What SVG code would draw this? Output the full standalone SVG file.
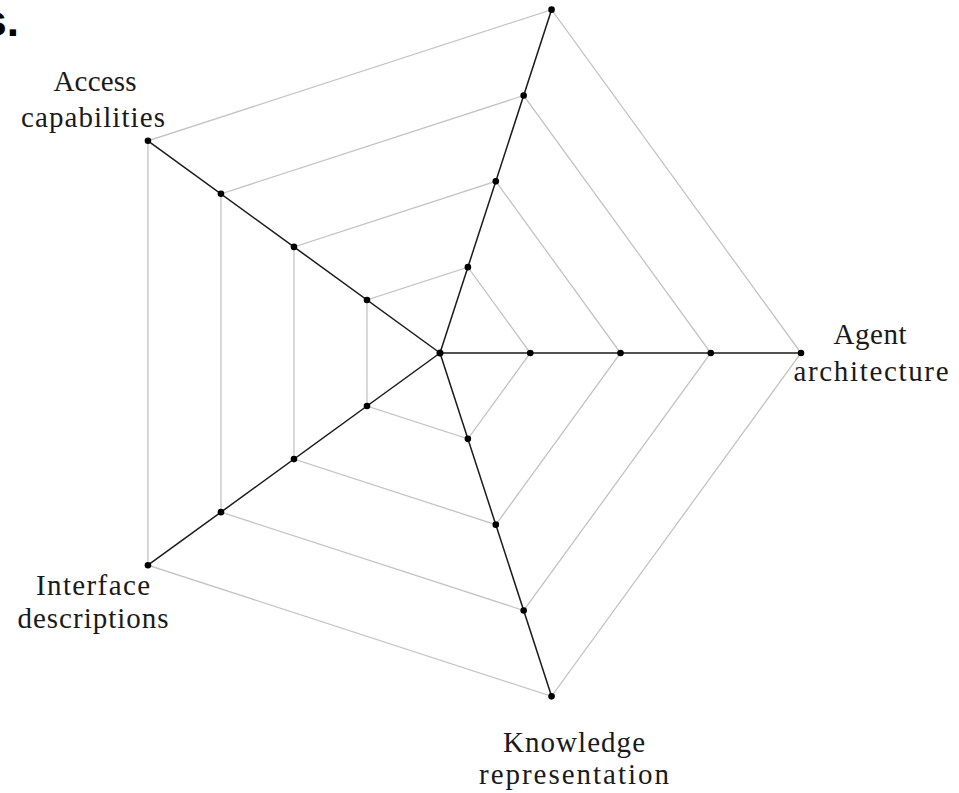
<svg xmlns="http://www.w3.org/2000/svg" width="959" height="793" viewBox="0 0 959 793">
  <style>
    .grid { fill: none; stroke: #c4c4c4; stroke-width: 1.3; }
    .spoke { stroke: #1a1a1a; stroke-width: 1.5; }
    .dot { fill: #000; }
    .lbl { font-family: "Liberation Serif", "DejaVu Serif", serif; font-size: 29px; fill: #1a1a1a; text-anchor: middle; }
    .tag { font-family: "Liberation Sans", Arial, sans-serif; font-weight: bold; font-size: 44px; fill: #000; }
  </style>
  <rect width="959" height="793" fill="#fff"/>

  <!-- panel letter -->
  <text class="tag" x="19" y="36" text-anchor="end">s.</text>

  <!-- concentric pentagons -->
  <g id="grid">
    <polygon class="grid" points="530.25,353 467.89,267.17 366.99,299.95 366.99,406.05 467.89,438.83"/>
    <polygon class="grid" points="620.5,353 495.78,181.33 293.97,246.90 293.97,459.10 495.78,524.67"/>
    <polygon class="grid" points="710.75,353 523.67,95.50 220.96,193.86 220.96,512.14 523.67,610.50"/>
    <polygon class="grid" points="801,353 551.56,9.67 147.95,140.81 147.95,565.19 551.56,696.33"/>
  </g>

  <!-- axes -->
  <g id="connectors">
    <line class="spoke" x1="440" y1="353" x2="801" y2="353"/>
    <line class="spoke" x1="440" y1="353" x2="551.56" y2="9.67"/>
    <line class="spoke" x1="440" y1="353" x2="147.95" y2="140.81"/>
    <line class="spoke" x1="440" y1="353" x2="147.95" y2="565.19"/>
    <line class="spoke" x1="440" y1="353" x2="551.56" y2="696.33"/>
  </g>

  <g id="center"><circle class="dot" cx="440" cy="353" r="3.5"/></g>

  <g id="agent-architecture">
    <circle class="dot" cx="530.25" cy="353" r="3.3"/>
    <circle class="dot" cx="620.5" cy="353" r="3.3"/>
    <circle class="dot" cx="710.75" cy="353" r="3.3"/>
    <circle class="dot" cx="801" cy="353" r="3.3"/>
    <text class="lbl" x="870" y="344" textLength="73" lengthAdjust="spacing">Agent</text>
    <text class="lbl" x="871" y="381" textLength="155" lengthAdjust="spacing">architecture</text>
  </g>

  <g id="top-axis">
    <circle class="dot" cx="467.89" cy="267.17" r="3.3"/>
    <circle class="dot" cx="495.78" cy="181.33" r="3.3"/>
    <circle class="dot" cx="523.67" cy="95.50" r="3.3"/>
    <circle class="dot" cx="551.56" cy="9.67" r="3.3"/>
  </g>

  <g id="access-capabilities">
    <circle class="dot" cx="366.99" cy="299.95" r="3.3"/>
    <circle class="dot" cx="293.97" cy="246.90" r="3.3"/>
    <circle class="dot" cx="220.96" cy="193.86" r="3.3"/>
    <circle class="dot" cx="147.95" cy="140.81" r="3.3"/>
    <text class="lbl" x="95" y="91" textLength="83" lengthAdjust="spacing">Access</text>
    <text class="lbl" x="93" y="127" textLength="144" lengthAdjust="spacing">capabilities</text>
  </g>

  <g id="interface-descriptions">
    <circle class="dot" cx="366.99" cy="406.05" r="3.3"/>
    <circle class="dot" cx="293.97" cy="459.10" r="3.3"/>
    <circle class="dot" cx="220.96" cy="512.14" r="3.3"/>
    <circle class="dot" cx="147.95" cy="565.19" r="3.3"/>
    <text class="lbl" x="93" y="595" textLength="114" lengthAdjust="spacing">Interface</text>
    <text class="lbl" x="93" y="628" textLength="151" lengthAdjust="spacing">descriptions</text>
  </g>

  <g id="knowledge-representation">
    <circle class="dot" cx="467.89" cy="438.83" r="3.3"/>
    <circle class="dot" cx="495.78" cy="524.67" r="3.3"/>
    <circle class="dot" cx="523.67" cy="610.50" r="3.3"/>
    <circle class="dot" cx="551.56" cy="696.33" r="3.3"/>
    <text class="lbl" x="574" y="752" textLength="142" lengthAdjust="spacing">Knowledge</text>
    <text class="lbl" x="574" y="784" textLength="190" lengthAdjust="spacing">representation</text>
  </g>
</svg>
